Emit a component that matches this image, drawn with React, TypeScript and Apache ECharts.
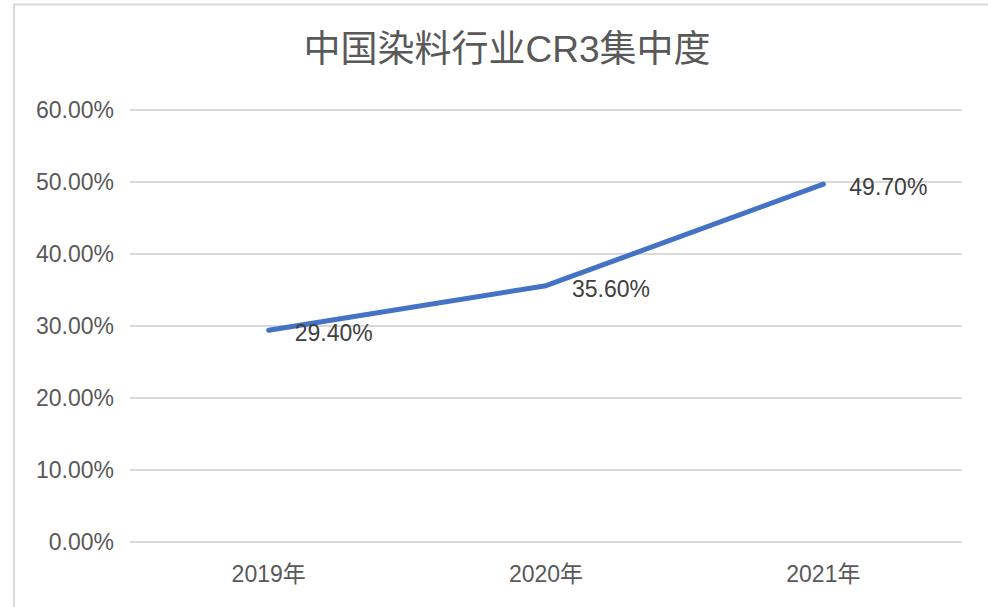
import React, { useEffect, useRef } from "react";
import * as echarts from "echarts";

const titleText = "中国染料行业CR3集中度";
const categories = ["2019年", "2020年", "2021年"];
const cr3Values = [29.4, 35.6, 49.7];
const yMin = 0;
const yMax = 60;
const yInterval = 10;

export default function App() {
  const ref = useRef<HTMLDivElement>(null);
  useEffect(() => {
    if (!ref.current) return;
    const chart = echarts.init(ref.current, undefined, { renderer: "svg" });
    const font = "'Liberation Sans', Arial, 'Noto Sans CJK SC', sans-serif";
    chart.setOption({
      animation: false,
      backgroundColor: "#ffffff",
      title: {
        text: titleText,
        left: 502,
        top: 26,
        textAlign: "center",
        textStyle: {
          fontFamily: font,
          fontSize: 37,
          fontWeight: "normal",
          color: "#595959",
        },
      },
      graphic: [
        {
          type: "polyline",
          shape: { points: [[14, 700], [14, 4.5], [1000, 4.5]] },
          style: { stroke: "#d9d9d9", lineWidth: 2, fill: "none" },
          silent: true,
        },
      ],
      grid: { left: 130, right: 26, top: 110, bottom: 65, containLabel: false },
      xAxis: {
        type: "category",
        data: categories,
        boundaryGap: true,
        axisLine: { show: false },
        axisTick: { show: false },
        axisLabel: {
          color: "#595959",
          fontFamily: font,
          fontSize: 23,
          margin: 20,
        },
      },
      yAxis: {
        type: "value",
        min: yMin,
        max: yMax,
        interval: yInterval,
        axisLine: { show: false },
        axisTick: { show: false },
        axisLabel: {
          color: "#595959",
          fontFamily: font,
          fontSize: 23,
          margin: 16,
          formatter: (v: number) => v.toFixed(2) + "%",
        },
        splitLine: { lineStyle: { color: "#d9d9d9", width: 2 } },
      },
      series: [
        {
          type: "line",
          data: cr3Values,
          symbol: "circle",
          symbolSize: 2,
          showSymbol: true,
          showAllSymbol: true,
          itemStyle: { color: "rgba(0,0,0,0)", borderWidth: 0 },
          lineStyle: { color: "#4472C4", width: 5, cap: "round", join: "round" },
          label: {
            show: true,
            position: "right",
            distance: 25,
            offset: [0, 3],
            color: "#404040",
            fontFamily: font,
            fontSize: 23,
            formatter: (p: any) => Number(p.value).toFixed(2) + "%",
          },
        },
      ],
    });
    return () => chart.dispose();
  }, []);
  return (
    <div
      ref={ref}
      style={{ position: "absolute", left: 0, top: 0, width: 988, height: 607 }}
    />
  );
}
